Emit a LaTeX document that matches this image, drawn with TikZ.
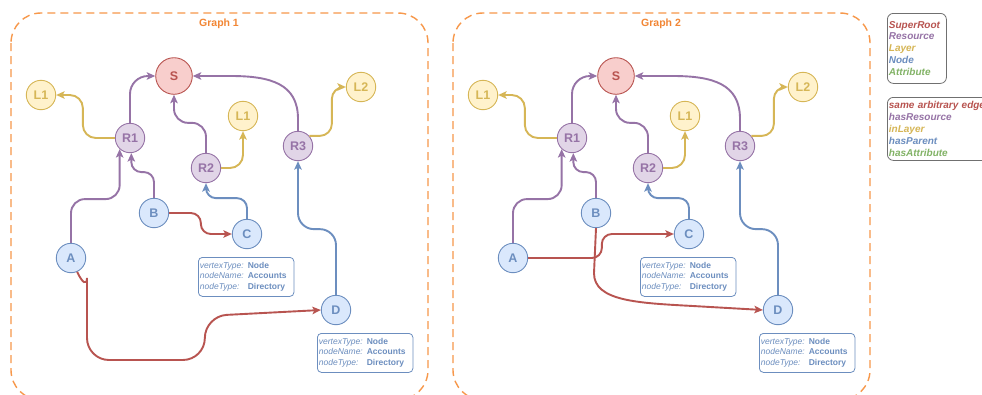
\documentclass[tikz,border=0pt]{standalone}
\usepackage{fontspec}
\setmainfont{Liberation Sans}
\usetikzlibrary{arrows.meta,calc}

\definecolor{rootline}{HTML}{B85450}
\definecolor{rootfill}{HTML}{F8CECC}
\definecolor{resline}{HTML}{9673A6}
\definecolor{resfill}{HTML}{E1D5E7}
\definecolor{layline}{HTML}{D6B656}
\definecolor{layfill}{HTML}{FFF2CC}
\definecolor{nodeline}{HTML}{6C8EBF}
\definecolor{nodefill}{HTML}{DAE8FC}
\definecolor{attrline}{HTML}{82B366}
\definecolor{framecol}{RGB}{247,152,75}
\definecolor{titlecol}{RGB}{242,134,52}
\definecolor{legendline}{HTML}{707070}

\newcommand\fsz[2]{\fontsize{#1}{#2}\selectfont}

\tikzset{
  vtx/.style={circle, inner sep=0pt, minimum size=29.4pt, line width=0.9pt, font=\bfseries\fsz{12.5}{12}},
  rootv/.style={vtx, minimum size=36.6pt, draw=rootline, fill=rootfill, text=rootline},
  resv/.style={vtx, draw=resline, fill=resfill, text=resline},
  layv/.style={vtx, draw=layline, fill=layfill, text=layline},
  nodev/.style={vtx, draw=nodeline, fill=nodefill, text=nodeline},
  conn/.style={line width=1.9pt, -{Stealth[length=8.5pt,width=7.5pt,inset=2pt]}},
  redge/.style={conn, draw=rootline},
  pedge/.style={conn, draw=resline},
  yedge/.style={conn, draw=layline},
  bedge/.style={conn, draw=nodeline},
  frame/.style={draw=framecol, line width=1.4pt, dash pattern=on 8pt off 5pt, rounded corners=30pt},
  gtitle/.style={text=titlecol, font=\bfseries\fsz{10.5}{12}},
  infobox/.style={draw=nodeline, fill=white, rounded corners=4pt, line width=0.8pt,
    anchor=north west, minimum width=95.5pt, minimum height=39pt, inner xsep=1.5pt,
    inner ysep=0pt, text width=92.5pt, align=left, text=nodeline, font=\fsz{8.5}{10.4}},
  legendbox/.style={draw=legendline, rounded corners=6pt, line width=0.8pt,
    anchor=north west, inner xsep=1.5pt, inner ysep=0pt, align=left,
    font=\bfseries\itshape\fsz{10}{11.9}}
}

% attribute table shown under C and D
\newcommand\infolines{\begin{tabular}{@{}l@{\hspace{4pt}}l@{}}
\itshape vertexType: & \bfseries Node\\
\itshape nodeName: & \bfseries Accounts\\
\itshape nodeType: & \bfseries Directory
\end{tabular}}

% one graph: #1 name suffix, #2 horizontal offset, #3 title
\newcommand\graphbody[3]{%
  \draw[frame] (#2+11,13) rectangle (#2+428,400);
  \node[gtitle] (title#1) at (#2+219,24) {#3};
  \node[rootv] (S#1)  at (#2+174,76)  {S};
  \node[layv]  (La#1) at (#2+41,95)   {L1};
  \node[resv]  (Ra#1) at (#2+130,138) {R1};
  \node[resv]  (Rb#1) at (#2+206,168) {R2};
  \node[layv]  (Lb#1) at (#2+243,116) {L1};
  \node[resv]  (Rc#1) at (#2+298,146) {R3};
  \node[layv]  (Lc#1) at (#2+361,87)  {L2};
  \node[nodev] (B#1)  at (#2+154,213) {B};
  \node[nodev] (C#1)  at (#2+247,234) {C};
  \node[nodev] (A#1)  at (#2+71,258)  {A};
  \node[nodev] (D#1)  at (#2+336,310) {D};
  \node[infobox] (infoC#1) at (#2+198,257) {\infolines};
  \node[infobox] (infoD#1) at (#2+317,333) {\infolines};
  % hasResource
  \draw[pedge, rounded corners=18pt] (Ra#1.north) |- (S#1.west);
  \draw[pedge, rounded corners=14pt] (Rb#1.north) -- ++(0,-30) -| (S#1.south);
  \draw[pedge] (Rc#1.north) -- ++(0,-12) .. controls +(0,-35) and +(40,0) .. ($(S#1.east)+(38,0)$) -- (S#1.east);
  \draw[pedge, rounded corners=14pt] (A#1.north) |- ($(Ra#1.-133)+(0,50)$) -- (Ra#1.-133);
  \draw[pedge, rounded corners=10pt] (B#1.north) |- ($(Ra#1.-85)+(0,19)$) -- (Ra#1.-85);
  % inLayer
  \draw[yedge, rounded corners=13pt] (Ra#1.west) -- ++(-32,0) |- (La#1.east);
  \draw[yedge, rounded corners=13pt] (Rb#1.east) -| (Lb#1.south);
  \draw[yedge, rounded corners=12pt] (Rc#1.42) -| ($(Lc#1.west)+(-14,0)$) -- (Lc#1.west);
  % hasParent
  \draw[bedge, rounded corners=10pt] (C#1.north) |- ($(Rb#1.south)+(0,15)$) -- (Rb#1.south);
  \draw[bedge, rounded corners=16pt] (D#1.north) |- ($(Rc#1.south)+(0,68)$) -- (Rc#1.south);
}

\begin{document}
\begin{tikzpicture}[x=1pt,y=-1pt]
  \path[use as bounding box] (0,0) rectangle (982,394);
  \clip (0,0) rectangle (982,394);
  \fill[white] (0,0) rectangle (982,394);

  \graphbody{1}{0}{Graph 1}
  \graphbody{2}{442}{Graph 2}

  % arbitrary edges of the first graph
  \draw[redge, rounded corners=10pt] (B1.east) -| ($(C1.west)+(-31,0)$) -- (C1.west);
  \draw[redge, rounded corners=22pt] (A1.-66) .. controls +(5,11) and +(0,-14) .. ($(A1)+(16,42)$)
    |- ($(D1.west)+(-116,50)$) -- ($(D1.west)+(-116,6)$) -- (D1.west);

  % arbitrary edges of the second graph
  \draw[redge, rounded corners=10pt] (A2.east) -| ($(C2.west)+(-72,0)$) -- (C2.west);
  \draw[redge] (B2.south) -- ++(-2,45) .. controls +(0,28) and +(-55,-3) .. ($(D2.west)+(-70,-4)$) -- (D2.west);

  % legends
  \node[legendbox, text width=56pt, minimum height=70pt] (vtxlegend) at (887,13)
    {\textcolor{rootline}{SuperRoot}\\\textcolor{resline}{Resource}\\\textcolor{layline}{Layer}\\\textcolor{nodeline}{Node}\\\textcolor{attrline}{Attribute}};
  \node[legendbox, text width=100pt, minimum height=63pt] (edgelegend) at (887,97)
    {\textcolor{rootline}{same arbitrary edge}\\\textcolor{resline}{hasResource}\\\textcolor{layline}{inLayer}\\\textcolor{nodeline}{hasParent}\\\textcolor{attrline}{hasAttribute}};
\end{tikzpicture}
\end{document}
